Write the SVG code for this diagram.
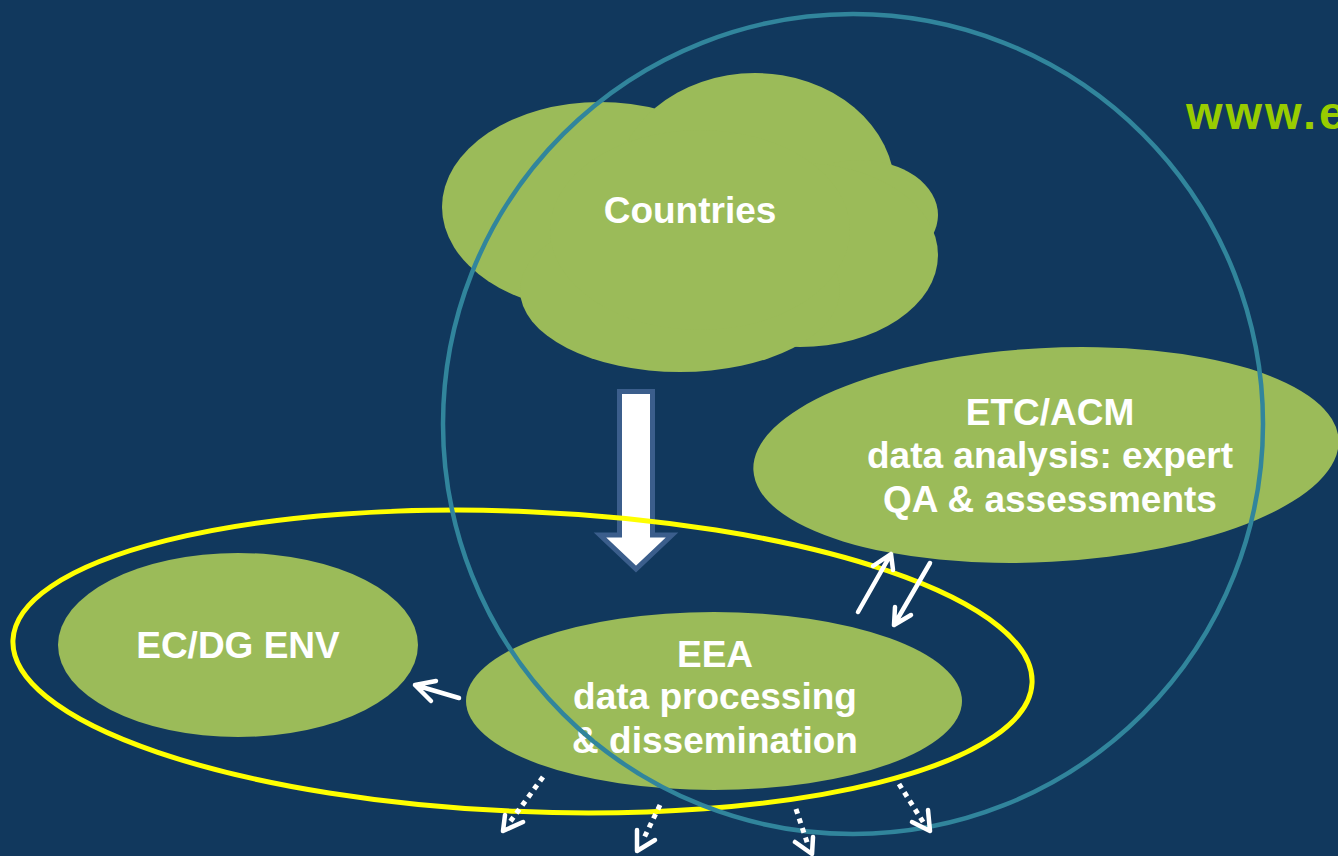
<svg xmlns="http://www.w3.org/2000/svg" width="1338" height="856" viewBox="0 0 1338 856">
<style>
.node{fill:#9bbb59}
.lbl{font-family:"Liberation Sans",Arial,sans-serif;font-weight:bold;font-size:37px;fill:#ffffff;text-anchor:middle}
.arr{fill:none;stroke:#ffffff;stroke-width:4.5;stroke-linecap:round;stroke-linejoin:round}
.dot{fill:none;stroke:#ffffff;stroke-width:5;stroke-dasharray:5 5}
</style>
<rect x="0" y="0" width="1338" height="856" fill="#11385d"/>
<text x="1186" y="129" font-family="'Liberation Sans',Arial,sans-serif" font-weight="bold" font-size="47" letter-spacing="3" fill="#99cc00">www.e</text>

<g id="countries">
  <g class="node">
    <ellipse cx="600" cy="207" rx="158" ry="105"/>
    <ellipse cx="755" cy="190" rx="140" ry="117"/>
    <ellipse cx="860" cy="215" rx="78" ry="55"/>
    <ellipse cx="800" cy="255" rx="138" ry="92"/>
    <ellipse cx="680" cy="290" rx="160" ry="82"/>
    <ellipse cx="700" cy="230" rx="150" ry="100"/>
  </g>
  <text class="lbl" x="690" y="223">Countries</text>
</g>

<g id="etc-acm">
  <ellipse class="node" cx="1046" cy="455" rx="293" ry="107" transform="rotate(-3 1046 455)"/>
  <text class="lbl" x="1050" y="425">ETC/ACM</text>
  <text class="lbl" x="1050" y="468">data analysis: expert</text>
  <text class="lbl" x="1050" y="512">QA &amp; assessments</text>
</g>

<g id="ec-dg-env">
  <ellipse class="node" cx="238" cy="645" rx="180" ry="92"/>
  <text class="lbl" x="238" y="658">EC/DG ENV</text>
</g>

<g id="eea">
  <ellipse class="node" cx="714" cy="701" rx="248" ry="89"/>
  <text class="lbl" x="715" y="667">EEA</text>
  <text class="lbl" x="715" y="709">data processing</text>
  <text class="lbl" x="715" y="753">&amp; dissemination</text>
</g>

<g id="flow-arrow">
  <polygon points="619.5,391.5 652.5,391.5 652.5,535 672,535 636,569 600,535 619.5,535" fill="#ffffff" stroke="#3b5e8c" stroke-width="5" stroke-linejoin="miter"/>
</g>

<g id="eea-group">
  <ellipse cx="522.5" cy="661.5" rx="510" ry="150" fill="none" stroke="#ffff00" stroke-width="5" transform="rotate(2.4 522.5 661.5)"/>
</g>

<g id="scope-circle">
  <circle cx="853" cy="424" r="410" fill="none" stroke="#31859c" stroke-width="4.5"/>
</g>

<g id="connectors">
  <path class="arr" d="M858,612 L891,554 M873,566 L891,554 L893,570"/>
  <path class="arr" d="M930,563 L894,625 M895,607 L894,625 L911,615"/>
  <path class="arr" d="M459,698 L415,685 M436,681 L415,685 L431,701"/>
  <path class="dot" d="M543,777 L510,822"/>
  <path class="arr" d="M505,815 L503,831 L523,822"/>
  <path class="dot" d="M660,805 L643,840"/>
  <path class="arr" d="M637,830 L637,851 L655,840"/>
  <path class="dot" d="M796,809 L808,845"/>
  <path class="arr" d="M795,842 L812,854 L813,837"/>
  <path class="dot" d="M899,784 L925,825"/>
  <path class="arr" d="M912,822 L930,831 L928,810"/>
</g>
</svg>
